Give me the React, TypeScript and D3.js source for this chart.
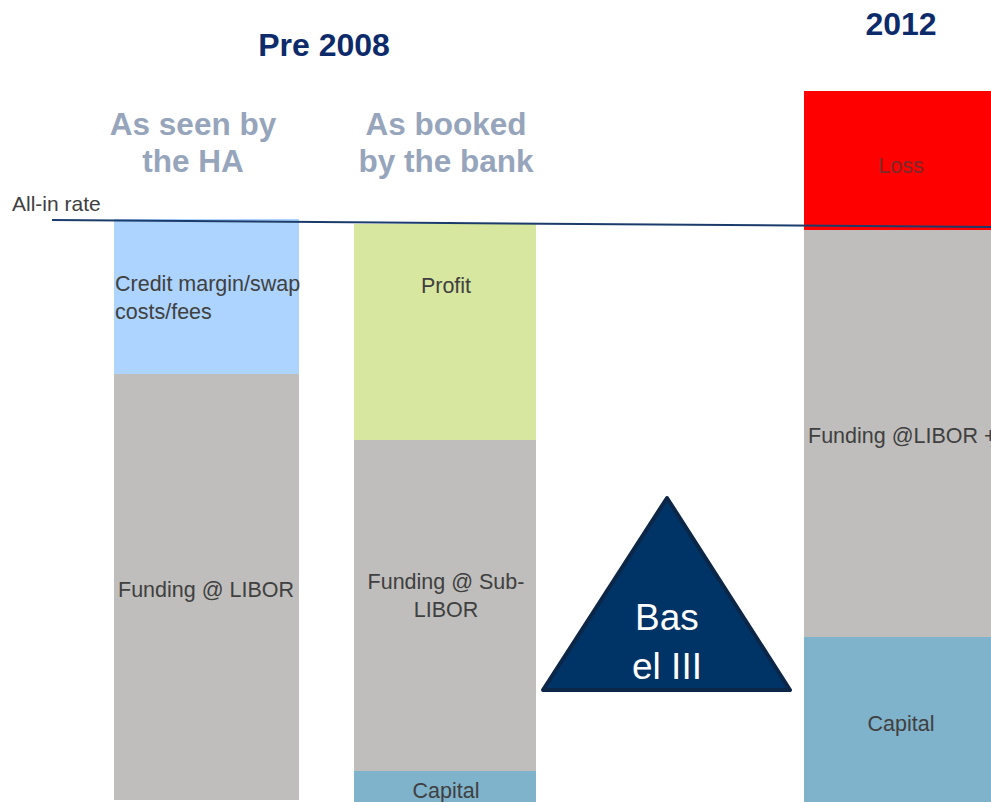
import React from "react";
import * as d3 from "d3";

const W = 991;
const H = 802;

// categories (bars)
const categories = ["HA", "Bank", "2012"];
const barLeft = [114, 354, 804];
const barWidth = [185, 182, 190];

// stacked segment values (bottom → top), in chart units
const baseOffset = [2, 0, 0];
const capitalValues = [0, 31, 165];
const fundingValues = [426, 331, 407];
const topValues = [155, 216, 139];

const capitalLabels = ["", "Capital", "Capital"];
const fundingLabels = [["Funding @ LIBOR"], ["Funding @ Sub-", "LIBOR"], ["Funding @LIBOR +"]];
const topLabels = [["Credit margin/swap", "costs/fees"], ["Profit"], ["Loss"]];
const topColors = ["#acd4fe", "#d8e79f", "#ff0000"];

// all-in rate line (value at left and right end)
const allInX = [52, 991];
const allInValues = [582, 575];

const FONT = "'Liberation Sans', Arial, sans-serif";

export default function App() {
  const y = d3.scaleLinear().domain([0, 711]).range([802, 91]);
  const x = d3.scaleOrdinal<string, number>().domain(categories).range(barLeft);
  const w = d3.scaleOrdinal<string, number>().domain(categories).range(barWidth);

  const segs: any[] = [];
  categories.forEach((c, i) => {
    const b0 = baseOffset[i];
    const b1 = b0 + capitalValues[i];
    const b2 = b1 + fundingValues[i];
    const b3 = b2 + topValues[i];
    if (capitalValues[i] > 0) segs.push({ c, i, y0: b0, y1: b1, fill: "#7fb2cb", kind: "cap" });
    segs.push({ c, i, y0: b1, y1: b2, fill: "#bfbebc", kind: "fund" });
    segs.push({ c, i, y0: b2, y1: b3, fill: topColors[i], kind: "top" });
  });

  const line = d3.line<number>()
    .x((_, k) => allInX[k])
    .y((v) => y(v));

  const tri = d3.line<[number, number]>()([[667, 498], [790, 690], [543, 690]]) + "Z";

  const lbl = { fontFamily: FONT, fontSize: 21.5, fill: "#404040" } as const;
  const sub = { fontFamily: FONT, fontSize: 31.5, fontWeight: "bold", fill: "#96a5bb", textAnchor: "middle" } as const;
  const head = { fontFamily: FONT, fontSize: 32, fontWeight: "bold", fill: "#0d2b6b", textAnchor: "middle" } as const;

  return (
    <svg width={W} height={H} style={{ position: "absolute", left: 0, top: 0 }}>
      <rect width={W} height={H} fill="#fff" />
      {segs.map((s, k) => (
        <rect key={k} x={x(s.c)} y={y(s.y1)} width={w(s.c)} height={y(s.y0) - y(s.y1)} fill={s.fill} />
      ))}
      <path d={line(allInValues) || ""} stroke="#1b3c6b" strokeWidth={2} fill="none" />

      {/* HA */}
      <text x={115} y={291} {...lbl}>{topLabels[0][0]}</text>
      <text x={115} y={319} {...lbl}>{topLabels[0][1]}</text>
      <text x={206} y={597} textAnchor="middle" {...lbl}>{fundingLabels[0][0]}</text>
      {/* Bank */}
      <text x={446} y={293} textAnchor="middle" {...lbl}>{topLabels[1][0]}</text>
      <text x={446} y={589} textAnchor="middle" {...lbl}>{fundingLabels[1][0]}</text>
      <text x={446} y={617} textAnchor="middle" {...lbl}>{fundingLabels[1][1]}</text>
      <text x={446} y={798} textAnchor="middle" {...lbl}>{capitalLabels[1]}</text>
      {/* 2012 */}
      <text x={901} y={173} textAnchor="middle" {...lbl} fill="#7a2a2a">{topLabels[2][0]}</text>
      <text x={808} y={443} {...lbl}>{fundingLabels[2][0]}</text>
      <text x={901} y={731} textAnchor="middle" {...lbl}>{capitalLabels[2]}</text>

      <text x={12} y={211} fontFamily={FONT} fontSize={21} fill="#404040">All-in rate</text>

      {/* headings */}
      <text x={324} y={56} {...head}>Pre 2008</text>
      <text x={901} y={35} {...head}>2012</text>
      <text x={193} y={135} {...sub}>As seen by</text>
      <text x={193} y={172} {...sub}>the HA</text>
      <text x={446} y={135} {...sub}>As booked</text>
      <text x={446} y={172} {...sub}>by the bank</text>

      {/* Basel III triangle */}
      <path d={tri} fill="#003366" stroke="#0b2647" strokeWidth={4} strokeLinejoin="round" />
      <text x={667} y={630} textAnchor="middle" fontFamily={FONT} fontSize={37} fill="#fff">Bas</text>
      <text x={667} y={679} textAnchor="middle" fontFamily={FONT} fontSize={37} fill="#fff">el III</text>
    </svg>
  );
}
